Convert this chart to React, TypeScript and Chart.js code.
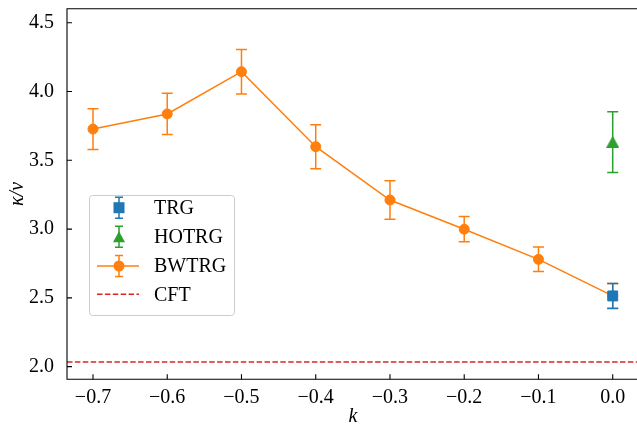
import { useEffect, useRef } from 'react';
import { Chart, registerables } from 'chart.js';

Chart.register(...registerables);

// ---- data ----
const K_VALUES = [-0.7, -0.6, -0.5, -0.4, -0.3, -0.2, -0.1, 0.0];
const BWTRG_VALUES = [3.727, 3.837, 4.144, 3.599, 3.211, 2.999, 2.78, 2.514];
const BWTRG_ERRORS = [0.148, 0.15, 0.162, 0.16, 0.14, 0.092, 0.089, 0.09];
const TRG_K = [0.0];
const TRG_VALUES = [2.514];
const TRG_ERRORS = [0.091];
const HOTRG_K = [0.0];
const HOTRG_VALUES = [3.632];
const HOTRG_ERRORS = [0.22];
const CFT_VALUE = 2.034;
const X_TICKS = [-0.7, -0.6, -0.5, -0.4, -0.3, -0.2, -0.1, 0.0];
const Y_TICKS = [2.0, 2.5, 3.0, 3.5, 4.0, 4.5];
const X_MIN = -0.735;
const X_MAX = 0.035;
const Y_MIN = 1.908;
const Y_MAX = 4.602;

const BLUE = '#1f77b4';
const ORANGE = '#ff7f0e';
const GREEN = '#2ca02c';
const RED = '#d62728';
const FONT = '"Liberation Serif", "Times New Roman", serif';
const CANVAS_W = 648;
const CHART_RIGHT = 638.7;

const fmt = (v: number) => {
  const s = Math.abs(v) < 1e-9 ? '0.0' : v.toFixed(1);
  return s.replace('-', '\u2212');
};

function makeTriangle(color: string) {
  const c = document.createElement('canvas');
  c.width = 13;
  c.height = 12;
  const ctx = c.getContext('2d')!;
  ctx.beginPath();
  ctx.moveTo(6.5, 0.5);
  ctx.lineTo(12.5, 11.5);
  ctx.lineTo(0.5, 11.5);
  ctx.closePath();
  ctx.fillStyle = color;
  ctx.fill();
  ctx.strokeStyle = color;
  ctx.lineWidth = 1;
  ctx.stroke();
  return c;
}

function drawErrorBar(ctx: CanvasRenderingContext2D, x: number, yTop: number, yBot: number, cap: number, color: string) {
  ctx.save();
  ctx.strokeStyle = color;
  ctx.lineWidth = 1.5;
  ctx.beginPath();
  ctx.moveTo(x, yTop);
  ctx.lineTo(x, yBot);
  ctx.moveTo(x - cap, yTop);
  ctx.lineTo(x + cap, yTop);
  ctx.moveTo(x - cap, yBot);
  ctx.lineTo(x + cap, yBot);
  ctx.stroke();
  ctx.restore();
}

const errorBarPlugin = {
  id: 'errorBars',
  beforeDatasetDraw(chart: any, args: any) {
    const ds = chart.data.datasets[args.index];
    if (!ds.errors) return;
    const meta = chart.getDatasetMeta(args.index);
    const yScale = chart.scales.y;
    const ctx = chart.ctx;
    meta.data.forEach((el: any, i: number) => {
      const v = ds.data[i].y;
      const e = ds.errors[i];
      drawErrorBar(ctx, el.x, yScale.getPixelForValue(v + e), yScale.getPixelForValue(v - e), 5.5, ds.borderColor);
    });
  },
};

const framePlugin = {
  id: 'frame',
  afterDraw(chart: any) {
    const ctx = chart.ctx as CanvasRenderingContext2D;
    const { left, right, top, bottom } = chart.chartArea;
    const xs = chart.scales.x;
    const ys = chart.scales.y;
    ctx.save();
    ctx.strokeStyle = '#000';
    ctx.lineWidth = 1.1;
    ctx.beginPath();
    ctx.rect(left, top, right - left, bottom - top);
    ctx.stroke();
    ctx.beginPath();
    X_TICKS.forEach((v) => {
      const x = xs.getPixelForValue(v);
      ctx.moveTo(x, bottom);
      ctx.lineTo(x, bottom - 5);
    });
    Y_TICKS.forEach((v) => {
      const y = ys.getPixelForValue(v);
      ctx.moveTo(left, y);
      ctx.lineTo(left + 5, y);
    });
    ctx.stroke();

    // axis titles
    ctx.fillStyle = '#000';
    ctx.textAlign = 'center';
    ctx.textBaseline = 'middle';
    ctx.font = `italic 20px ${FONT}`;
    ctx.fillText('k', (left + right) / 2, 417);
    ctx.save();
    ctx.translate(18, (top + bottom) / 2);
    ctx.rotate(-Math.PI / 2);
    ctx.fillText('\u03BA/\u03BD', 0, 0);
    ctx.restore();

    // legend
    const bx = 89.5, by = 195.5, bw = 145, bh = 120, r = 3;
    ctx.beginPath();
    ctx.moveTo(bx + r, by);
    ctx.lineTo(bx + bw - r, by);
    ctx.arcTo(bx + bw, by, bx + bw, by + r, r);
    ctx.lineTo(bx + bw, by + bh - r);
    ctx.arcTo(bx + bw, by + bh, bx + bw - r, by + bh, r);
    ctx.lineTo(bx + r, by + bh);
    ctx.arcTo(bx, by + bh, bx, by + bh - r, r);
    ctx.lineTo(bx, by + r);
    ctx.arcTo(bx, by, bx + r, by, r);
    ctx.closePath();
    ctx.fillStyle = 'rgba(255,255,255,0.8)';
    ctx.fill();
    ctx.strokeStyle = '#cccccc';
    ctx.lineWidth = 1;
    ctx.stroke();

    const mx = 119;
    const rows = [
      { label: 'TRG', y: 207.7, kind: 'square', color: BLUE },
      { label: 'HOTRG', y: 236.7, kind: 'triangle', color: GREEN },
      { label: 'BWTRG', y: 266, kind: 'circle', color: ORANGE },
      { label: 'CFT', y: 294.3, kind: 'dash', color: RED },
    ];
    rows.forEach((row) => {
      const y = row.y;
      if (row.kind === 'dash') {
        ctx.save();
        ctx.strokeStyle = row.color;
        ctx.lineWidth = 1.5;
        ctx.setLineDash([5.5, 2.4]);
        ctx.beginPath();
        ctx.moveTo(97, y);
        ctx.lineTo(139, y);
        ctx.stroke();
        ctx.restore();
      } else {
        if (row.kind === 'circle') {
          ctx.save();
          ctx.strokeStyle = row.color;
          ctx.lineWidth = 1.5;
          ctx.beginPath();
          ctx.moveTo(97, y);
          ctx.lineTo(139, y);
          ctx.stroke();
          ctx.restore();
        }
        drawErrorBar(ctx, mx, y - 10.5, y + 10.5, 4, row.color);
        ctx.fillStyle = row.color;
        ctx.beginPath();
        if (row.kind === 'square') {
          ctx.rect(mx - 5.5, y - 5.5, 11, 11);
        } else if (row.kind === 'triangle') {
          ctx.moveTo(mx, y - 5.5);
          ctx.lineTo(mx + 6, y + 5.5);
          ctx.lineTo(mx - 6, y + 5.5);
          ctx.closePath();
        } else {
          ctx.arc(mx, y, 5.5, 0, Math.PI * 2);
        }
        ctx.fill();
      }
      ctx.fillStyle = '#000';
      ctx.textAlign = 'left';
      ctx.textBaseline = 'middle';
      ctx.font = `20px ${FONT}`;
      ctx.fillText(row.label, 154, y + 1);
    });
    ctx.restore();
  },
};

const zeroPad = (s: any) => {
  s.paddingLeft = 0;
  s.paddingRight = 0;
  s.paddingTop = 0;
  s.paddingBottom = 0;
};

export default function App() {
  const ref = useRef<HTMLCanvasElement>(null);
  useEffect(() => {
    const canvas = ref.current!;
    const tri = makeTriangle(GREEN);
    const chart = new Chart(canvas, {
      type: 'line',
      data: {
        datasets: [
          {
            label: 'TRG',
            data: TRG_K.map((k, i) => ({ x: k, y: TRG_VALUES[i] })),
            errors: TRG_ERRORS,
            borderColor: BLUE,
            backgroundColor: BLUE,
            showLine: false,
            pointStyle: 'rect',
            pointRadius: 7,
            pointBorderWidth: 1,
          } as any,
          {
            label: 'HOTRG',
            data: HOTRG_K.map((k, i) => ({ x: k, y: HOTRG_VALUES[i] })),
            errors: HOTRG_ERRORS,
            borderColor: GREEN,
            backgroundColor: GREEN,
            showLine: false,
            pointStyle: tri,
            pointRadius: 7,
          } as any,
          {
            label: 'BWTRG',
            data: K_VALUES.map((k, i) => ({ x: k, y: BWTRG_VALUES[i] })),
            errors: BWTRG_ERRORS,
            borderColor: ORANGE,
            backgroundColor: ORANGE,
            borderWidth: 1.5,
            pointStyle: 'circle',
            pointRadius: 5,
            pointBorderWidth: 1,
            tension: 0,
          } as any,
          {
            label: 'CFT',
            data: [
              { x: X_MIN, y: CFT_VALUE },
              { x: X_MAX, y: CFT_VALUE },
            ],
            borderColor: RED,
            borderWidth: 1.5,
            borderDash: [5.5, 2.4],
            pointRadius: 0,
          } as any,
        ],
      },
      options: {
        responsive: false,
        animation: false,
        devicePixelRatio: 1,
        layout: { padding: { top: 8.7, right: CANVAS_W - CHART_RIGHT, left: 0, bottom: 0 } },
        plugins: {
          legend: { display: false },
          tooltip: { enabled: false },
        },
        scales: {
          x: {
            type: 'linear',
            min: X_MIN,
            max: X_MAX,
            grid: { display: false },
            border: { display: false },
            ticks: {
              font: { family: FONT, size: 20 },
              color: '#000',
              padding: -2,
              maxRotation: 0,
              autoSkip: false,
              callback: (v: any) => fmt(Number(v)),
            },
            afterBuildTicks: (s: any) => {
              s.ticks = X_TICKS.map((v) => ({ value: v }));
            },
            afterFit: (s: any) => {
              s.height = 49.7;
              zeroPad(s);
            },
          },
          y: {
            type: 'linear',
            min: Y_MIN,
            max: Y_MAX,
            grid: { display: false },
            border: { display: false },
            ticks: {
              font: { family: FONT, size: 20 },
              color: '#000',
              padding: 5,
              autoSkip: false,
              callback: (v: any) => fmt(Number(v)),
            },
            afterBuildTicks: (s: any) => {
              s.ticks = Y_TICKS.map((v) => ({ value: v }));
            },
            afterFit: (s: any) => {
              s.width = 67;
              zeroPad(s);
            },
          },
        },
      } as any,
      plugins: [errorBarPlugin, framePlugin],
    });
    return () => chart.destroy();
  }, []);
  return (
    <div style={{ position: 'fixed', left: 0, top: 0, width: 637, height: 429, overflow: 'hidden', background: '#fff' }}>
      <canvas ref={ref} width={CANVAS_W} height={429} style={{ display: 'block', width: CANVAS_W, height: 429 }} />
    </div>
  );
}
